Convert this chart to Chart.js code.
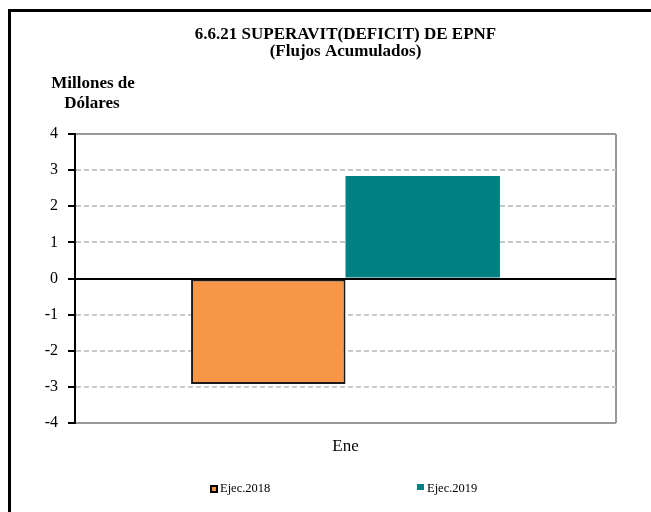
<!DOCTYPE html>
<html>
<head>
<meta charset="utf-8">
<script src="https://cdn.jsdelivr.net/npm/chart.js@4"></script>
<style>
  body { margin: 0; background: #fff; }
</style>
</head>
<body>
<canvas id="myChart" width="651" height="512"></canvas>
<script>
var categories = ['Ene'];
var series_names = ['Ejec.2018', 'Ejec.2019'];
var ejec2018 = [-2.92];
var ejec2019 = [2.84];
var y_ticks = [-4, -3, -2, -1, 0, 1, 2, 3, 4];
var title_lines = ['6.6.21 SUPERAVIT(DEFICIT) DE EPNF', '(Flujos Acumulados)'];
var axis_label = ['Millones de', 'Dólares'];

var serif = '"Liberation Serif", "Times New Roman", serif';

// frame, y axis caption and legend drawn on the canvas
var extras = {
    id: 'extras',
    beforeDraw: function (chart) {
        var ctx = chart.ctx;
        ctx.save();
        ctx.fillStyle = '#fff';
        ctx.fillRect(0, 0, chart.width, chart.height);
        ctx.restore();
    },
    afterDraw: function (chart) {
        var ctx = chart.ctx;
        ctx.save();
        ctx.strokeStyle = '#000';
        ctx.lineWidth = 3;
        ctx.beginPath();
        ctx.moveTo(9.5, chart.height);
        ctx.lineTo(9.5, 10.5);
        ctx.lineTo(chart.width, 10.5);
        ctx.stroke();

        ctx.fillStyle = '#000';
        ctx.font = 'bold 17px ' + serif;
        ctx.textAlign = 'center';
        ctx.textBaseline = 'middle';
        ctx.fillText(axis_label[0], 93, 84);
        ctx.fillText(axis_label[1], 92, 104);

        // legend
        var xs = [210, 417];
        ctx.font = '12.5px ' + serif;
        ctx.textAlign = 'left';
        chart.data.datasets.forEach(function (ds, i) {
            var x = xs[i], y = 489;
            ctx.fillStyle = ds.backgroundColor;
            if (ds.borderWidth) {
                ctx.fillRect(x, y - 4, 8, 8);
                ctx.strokeStyle = '#000';
                ctx.lineWidth = 2;
                ctx.strokeRect(x + 1, y - 3, 6, 6);
            } else {
                ctx.fillRect(x, y - 5, 7, 6);
            }
            ctx.fillStyle = '#000';
            ctx.fillText(ds.label, x + 10, y);
        });
        ctx.restore();
    }
};

var ctx = document.getElementById('myChart').getContext('2d');
var chart = new Chart(ctx, {
    type: 'bar',
    data: {
        labels: categories,
        datasets: [{
            label: series_names[0],
            data: ejec2018,
            backgroundColor: '#F79646',
            borderColor: '#1a1a1a',
            borderWidth: 2,
            borderSkipped: false
        }, {
            label: series_names[1],
            data: ejec2019,
            backgroundColor: '#008080',
            borderWidth: 0
        }]
    },
    options: {
        responsive: false,
        animation: false,
        layout: { padding: { left: 40, right: 35, top: 0, bottom: 44 } },
        datasets: {
            bar: { categoryPercentage: 0.571, barPercentage: 1 }
        },
        plugins: {
            legend: { display: false },
            tooltip: { enabled: false },
            title: {
                display: true,
                fullSize: false,
                text: title_lines,
                color: '#000',
                font: { family: serif, size: 17, weight: 'bold', lineHeight: 1.0 },
                padding: { top: 26, bottom: 74 }
            }
        },
        scales: {
            x: {
                grid: { color: '#999', lineWidth: 2, drawTicks: false },
                border: { display: false },
                ticks: { color: '#000', font: { family: serif, size: 17 }, padding: 13 },
                afterFit: function (scale) { scale.height = 45; }
            },
            y: {
                min: y_ticks[0],
                max: y_ticks[y_ticks.length - 1],
                ticks: { stepSize: 1, color: '#000', font: { family: serif, size: 16 }, padding: 10 },
                grid: {
                    color: function (c) {
                        var v = c.tick.value;
                        if (v === 0) return '#000';
                        if (v === y_ticks[0] || v === y_ticks[y_ticks.length - 1]) return '#999';
                        return '#c8c8c8';
                    },
                    lineWidth: 2,
                    tickLength: 7,
                    tickColor: '#000'
                },
                border: {
                    color: '#000',
                    width: 2,
                    dash: function (c) {
                        var v = c.tick ? c.tick.value : 0;
                        if (v === 0 || v === y_ticks[0] || v === y_ticks[y_ticks.length - 1]) return [];
                        return [5, 3];
                    }
                },
                afterFit: function (scale) { scale.width = 35; }
            }
        }
    },
    plugins: [extras]
});
</script>
</body>
</html>
